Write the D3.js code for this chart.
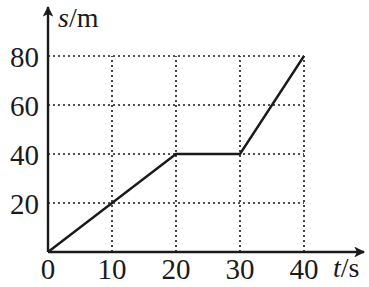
<!DOCTYPE html>
<html>
<head>
<meta charset="utf-8">
<script src="https://cdn.jsdelivr.net/npm/d3@7"></script>
<style>
  body { margin: 0; background: #fff; }
  text { font-family: "Liberation Serif", "Times New Roman", serif; fill: #1a1a1a; }
</style>
</head>
<body>
<div class="canvas"></div>
<script>
// data
const times = [0, 20, 30, 40];
const distances = [0, 40, 40, 80];
const xTicks = [0, 10, 20, 30, 40];
const yTicks = [20, 40, 60, 80];

const svg = d3.select('.canvas')
    .append('svg')
        .attr('width', 369)
        .attr('height', 287);

// scales
const x = d3.scaleLinear().domain([0, 40]).range([48, 304]);
const y = d3.scaleLinear().domain([0, 80]).range([252, 56]);

const ink = '#1a1a1a';

// dotted grid
const grid = svg.append('g')
    .attr('stroke', ink)
    .attr('stroke-width', 1.6)
    .attr('stroke-dasharray', '2,3');

grid.selectAll('.gv')
    .data(xTicks.slice(1))
    .enter().append('line')
        .attr('x1', d => x(d)).attr('x2', d => x(d))
        .attr('y1', y(0)).attr('y2', y(80));

grid.selectAll('.gh')
    .data(yTicks)
    .enter().append('line')
        .attr('x1', x(0)).attr('x2', x(40))
        .attr('y1', d => y(d)).attr('y2', d => y(d));

// axes with arrows
svg.append('defs').append('marker')
    .attr('id', 'arrow')
    .attr('viewBox', '0 0 10 10')
    .attr('refX', 9).attr('refY', 5)
    .attr('markerWidth', 7).attr('markerHeight', 4.5)
    .attr('markerUnits', 'strokeWidth')
    .attr('orient', 'auto')
    .append('path')
        .attr('d', 'M0,0 L10,5 L0,10 L2.5,5 Z')
        .attr('fill', ink);

svg.append('line')
    .attr('x1', x(0)).attr('y1', y(0))
    .attr('x2', 364).attr('y2', y(0))
    .attr('stroke', ink).attr('stroke-width', 2.4)
    .attr('marker-end', 'url(#arrow)');

svg.append('line')
    .attr('x1', x(0)).attr('y1', y(0))
    .attr('x2', x(0)).attr('y2', 7)
    .attr('stroke', ink).attr('stroke-width', 2.4)
    .attr('marker-end', 'url(#arrow)');

// data line
const line = d3.line()
    .x((d, i) => x(times[i]))
    .y(d => y(d));

svg.append('path')
    .datum(distances)
    .attr('d', line)
    .attr('fill', 'none')
    .attr('stroke', ink)
    .attr('stroke-width', 2.4)
    .attr('stroke-linejoin', 'miter');

// tick labels
svg.selectAll('.xl')
    .data(xTicks)
    .enter().append('text')
        .attr('x', d => x(d))
        .attr('y', 279)
        .attr('text-anchor', 'middle')
        .attr('font-size', 29)
        .text(d => d);

svg.selectAll('.yl')
    .data(yTicks)
    .enter().append('text')
        .attr('x', 39)
        .attr('y', d => y(d) + 11)
        .attr('text-anchor', 'end')
        .attr('font-size', 29)
        .text(d => d);

// axis titles
const sTitle = svg.append('text')
    .attr('x', 58).attr('y', 27)
    .attr('font-size', 28);
sTitle.append('tspan').attr('font-style', 'italic').text('s');
sTitle.append('tspan').text('/m');

const tTitle = svg.append('text')
    .attr('x', 333).attr('y', 277)
    .attr('font-size', 28);
tTitle.append('tspan').attr('font-style', 'italic').text('t');
tTitle.append('tspan').text('/s');
</script>
</body>
</html>
